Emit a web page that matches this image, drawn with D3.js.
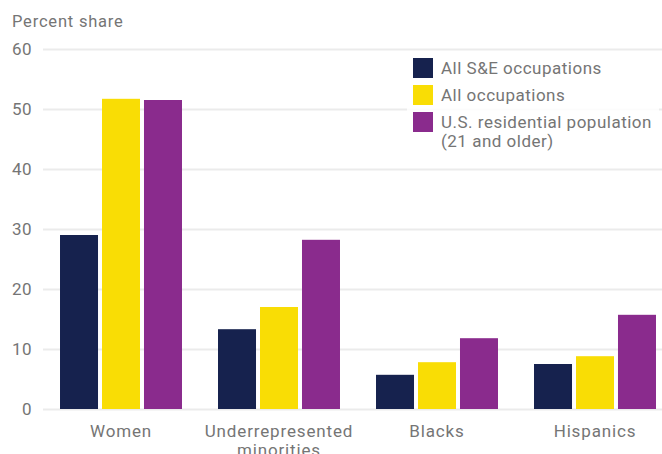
<!DOCTYPE html>
<html>
<head>
<meta charset="utf-8">
<script src="https://cdn.jsdelivr.net/npm/d3@7"></script>
<style>
  html, body { margin: 0; padding: 0; background: #fff; overflow: hidden; }
  svg { display: block; font-family: Roboto, "Open Sans", sans-serif; }
</style>
</head>
<body>
<div id="chart"></div>
<script>
let categories = ["Women", "Underrepresented minorities", "Blacks", "Hispanics"];
let catLines = [["Women"], ["Underrepresented", "minorities"], ["Blacks"], ["Hispanics"]];
let seriesNames = ["All S&E occupations", "All occupations", "U.S. residential population"];
let legendLines = [["All S&E occupations"], ["All occupations"], ["U.S. residential population", "(21 and older)"]];
let seData = [29.0, 13.3, 5.7, 7.5];
let allOcc = [51.7, 17.0, 7.8, 8.8];
let usPop = [51.5, 28.2, 11.8, 15.7];
let yTicks = [0, 10, 20, 30, 40, 50, 60];

let colors = ["#16224e", "#f9dd05", "#8a2b8d"];

let width = 662, height = 454;

//flatten for drawing
let values = [seData, allOcc, usPop];
let rows = [];
categories.forEach(function(c, i) {
    seriesNames.forEach(function(s, j) {
        rows.push({ cat: c, series: s, v: values[j][i], k: j });
    });
});

let svg = d3.select("#chart").append("svg")
    .attr("width", width)
    .attr("height", height);

let y = d3.scaleLinear().domain([0, 60]).range([409, 49]);

let x0 = d3.scaleBand()
    .domain(categories)
    .range([42, 674])
    .paddingInner(0.228)
    .paddingOuter(0.114);

let x1 = d3.scaleBand()
    .domain(seriesNames)
    .range([0, x0.bandwidth()])
    .paddingInner(0.095);

//axis title
svg.append("text")
    .attr("x", 12)
    .attr("y", 27)
    .attr("fill", "#757575")
    .style("font-size", "16.5px")
    .style("letter-spacing", "0.8px")
    .text("Percent share");

//gridlines + y labels
let yAxis = svg.append("g")
    .attr("transform", "translate(43,0)")
    .call(d3.axisLeft(y).tickValues(yTicks).tickSize(-(width - 43)).tickPadding(11));

yAxis.select(".domain").remove();
yAxis.selectAll(".tick line")
    .attr("stroke", "#ebebeb")
    .attr("stroke-width", 2);
yAxis.selectAll(".tick text")
    .attr("fill", "#757575")
    .style("font-size", "17px")
    .style("letter-spacing", "0.4px")
    .style("font-family", "Roboto, sans-serif");

//bars
svg.append("g").selectAll("rect")
    .data(rows)
    .enter()
    .append("rect")
    .attr("x", function(d) { return x0(d.cat) + x1(d.series); })
    .attr("y", function(d) { return y(d.v); })
    .attr("width", x1.bandwidth())
    .attr("height", function(d) { return y(0) - y(d.v); })
    .attr("fill", function(d) { return colors[d.k]; });

//x labels
let xl = svg.append("g").selectAll("text")
    .data(categories)
    .enter()
    .append("text")
    .attr("x", function(d) { return x0(d) + x0.bandwidth() / 2; })
    .attr("y", 437)
    .attr("text-anchor", "middle")
    .attr("fill", "#757575")
    .style("font-size", "17px")
    .style("letter-spacing", "0.85px");

xl.each(function(d, i) {
    let t = d3.select(this);
    catLines[i].forEach(function(line, j) {
        t.append("tspan")
            .attr("x", x0(d) + x0.bandwidth() / 2)
            .attr("dy", j == 0 ? 0 : 19)
            .text(line);
    });
});

//legend
let legend = svg.append("g");

legend.append("rect")
    .attr("x", 407)
    .attr("y", 52)
    .attr("width", 252)
    .attr("height", 104)
    .attr("fill", "#fff")
    .attr("opacity", 0.85);

let items = legend.selectAll("g.item")
    .data(seriesNames)
    .enter()
    .append("g")
    .attr("class", "item")
    .attr("transform", function(d, i) { return `translate(413,${58 + i * 27})`; });

items.append("rect")
    .attr("width", 20)
    .attr("height", 20)
    .attr("fill", function(d, i) { return colors[i]; });

items.append("text")
    .attr("fill", "#757575")
    .style("font-size", "17px")
    .style("letter-spacing", "0.5px")
    .each(function(d, i) {
        let t = d3.select(this);
        legendLines[i].forEach(function(line, j) {
            t.append("tspan")
                .attr("x", 28)
                .attr("y", 16 + j * 19)
                .text(line);
        });
    });
</script>
</body>
</html>
